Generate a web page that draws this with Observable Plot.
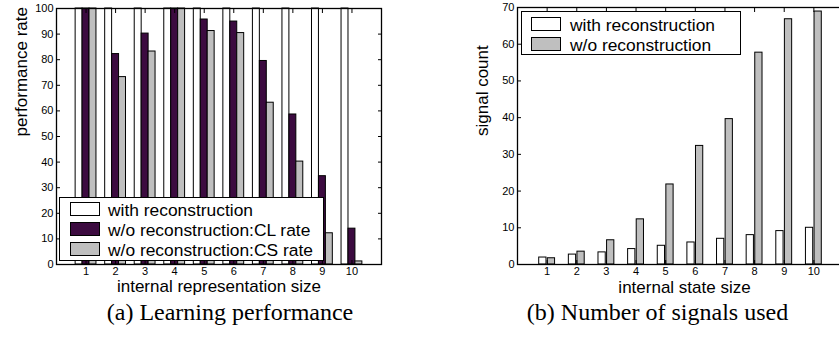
<!DOCTYPE html>
<html><head><meta charset="utf-8">
<script src="https://cdn.jsdelivr.net/npm/d3@7"></script>
<script src="https://cdn.jsdelivr.net/npm/@observablehq/plot@0.6"></script>
<style>
body{margin:0;background:#fff;}
#wrap{position:relative;width:839px;height:337px;overflow:hidden;font-family:"Liberation Sans",Arial,sans-serif;background:#fff;}
.plot{position:absolute;top:0;}
.legend{position:absolute;background:#fff;border:1.3px solid #000;box-sizing:border-box;}
.sw{position:absolute;border:1px solid #000;box-sizing:border-box;width:30px;height:14px;}
.lt{position:absolute;font-size:17.4px;line-height:20px;white-space:nowrap;color:#000;}
.cap{position:absolute;top:300px;font-family:"Liberation Serif","Times New Roman",serif;font-size:24px;line-height:24px;white-space:nowrap;transform:translateX(-50%);color:#000;}
</style></head><body><div id="wrap"></div><script>
// ---- data ----
const sizes = [1, 2, 3, 4, 5, 6, 7, 8, 9, 10];
// (a) Learning performance
const withReconRate = [100, 100, 100, 100, 100, 100, 100, 100, 100, 100];
const clRate = [100, 82.2, 90.2, 100, 95.7, 94.9, 79.5, 58.6, 34.5, 14.0];
const csRate = [100, 73.2, 83.2, 100, 91.2, 90.4, 63.2, 40.2, 12.2, 1.2];
const yTicksA = [0, 10, 20, 30, 40, 50, 60, 70, 80, 90, 100];
// (b) Number of signals used
const withReconCount = [1.9, 2.7, 3.3, 4.2, 5.1, 6.0, 7.0, 8.0, 9.1, 10.0];
const woReconCount = [1.7, 3.5, 6.6, 12.3, 21.8, 32.3, 39.6, 57.7, 66.8, 68.9];
const yTicksB = [0, 10, 20, 30, 40, 50, 60, 70];

const seriesA = ["with reconstruction", "w/o reconstruction:CL rate", "w/o reconstruction:CS rate"];
const seriesB = ["with reconstruction", "w/o reconstruction"];
const colorsA = ["#ffffff", "#3c0b40", "#bfbfbf"];
const colorsB = ["#ffffff", "#bfbfbf"];
const xLabelA = "internal representation size", yLabelA = "performance rate";
const xLabelB = "internal state size", yLabelB = "signal count";
const captionA = "(a) Learning performance", captionB = "(b) Number of signals used";

const font = {fontFamily: '"Liberation Sans", Arial, sans-serif', fontSize: "11px", background: "transparent", color: "#000", overflow: "visible"};

function bars(valuesList, colors, slot, width) {
  const n = valuesList.length;
  return valuesList.map((vals, j) => {
    const off = (j - (n - 1) / 2) * slot;
    const rows = sizes.map((s, i) => ({s, v: vals[i]}));
    return Plot.rectY(rows, {
      x1: d => d.s + off - width / 2, x2: d => d.s + off + width / 2,
      y1: () => 0, y2: "v", fill: colors[j], stroke: "#000", strokeWidth: 1
    });
  });
}

function axes(yTicks) {
  return [
    Plot.axisY(yTicks, {anchor: "left", tickSize: 0, tickPadding: 3, label: null}),
    Plot.axisY(yTicks, {anchor: "left", tickSize: -4, tickFormat: () => "", label: null}),
    Plot.axisY(yTicks, {anchor: "right", tickSize: -4, tickFormat: () => "", label: null}),
    Plot.axisX(sizes, {anchor: "bottom", tickSize: 0, tickPadding: 3, label: null}),
    Plot.axisX(sizes, {anchor: "bottom", tickSize: -4, tickFormat: () => "", label: null}),
    Plot.axisX(sizes, {anchor: "top", tickSize: -4, tickFormat: () => "", label: null})
  ];
}

const plotA = Plot.plot({
  width: 420, height: 300,
  marginLeft: 56, marginRight: 39, marginTop: 8, marginBottom: 36,
  style: font,
  x: {type: "linear", domain: [0, 11]},
  y: {domain: [0, 100]},
  marks: [
    ...bars([withReconRate, clRate, csRate], colorsA, 0.235, 0.235),
    Plot.frame({stroke: "#000", strokeWidth: 1.3}),
    ...axes(yTicksA),
    Plot.text([xLabelA], {frameAnchor: "bottom", dy: 27, fontSize: 17}),
    Plot.text([yLabelA], {frameAnchor: "left", rotate: -90, dx: -35, fontSize: 17})
  ]
});

const plotB = Plot.plot({
  width: 423, height: 300,
  marginLeft: 97, marginRight: 0, marginTop: 7, marginBottom: 36,
  style: font,
  x: {type: "linear", domain: [0, 11]},
  y: {domain: [0, 70]},
  marks: [
    ...bars([withReconCount, woReconCount], colorsB, 0.29, 0.245),
    Plot.frame({stroke: "#000", strokeWidth: 1.3}),
    ...axes(yTicksB),
    Plot.text([xLabelB], {frameAnchor: "bottom", dy: 28, dx: 4, fontSize: 17}),
    Plot.text([yLabelB], {frameAnchor: "left", rotate: -90, dx: -34.5, fontSize: 17})
  ]
});

const wrap = document.getElementById("wrap");
plotA.classList.add("plot"); plotA.style.left = "0px";
plotB.classList.add("plot"); plotB.style.left = "420px";
wrap.appendChild(plotA);
wrap.appendChild(plotB);

function legend(box, names, colors) {
  const el = document.createElement("div");
  el.className = "legend";
  Object.assign(el.style, {left: box.x + "px", top: box.y + "px", width: box.w + "px", height: box.h + "px"});
  wrap.appendChild(el);
  names.forEach((name, i) => {
    const top = box.swTop + i * 20;
    const sw = document.createElement("div");
    sw.className = "sw";
    Object.assign(sw.style, {left: box.swX + "px", top: top + "px", background: colors[i]});
    wrap.appendChild(sw);
    const t = document.createElement("div");
    t.className = "lt";
    t.textContent = name;
    Object.assign(t.style, {left: box.txtX + "px", top: (top - 2) + "px"});
    wrap.appendChild(t);
  });
}
legend({x: 59, y: 197, w: 265, h: 64, swX: 70, swTop: 202, txtX: 108}, seriesA, colorsA);
legend({x: 521, y: 11, w: 220, h: 44, swX: 531, swTop: 17, txtX: 570}, seriesB, colorsB);

function caption(text, cx) {
  const c = document.createElement("div");
  c.className = "cap";
  c.textContent = text;
  c.style.left = cx + "px";
  wrap.appendChild(c);
}
caption(captionA, 230);
caption(captionB, 657.5);
</script></body></html>
